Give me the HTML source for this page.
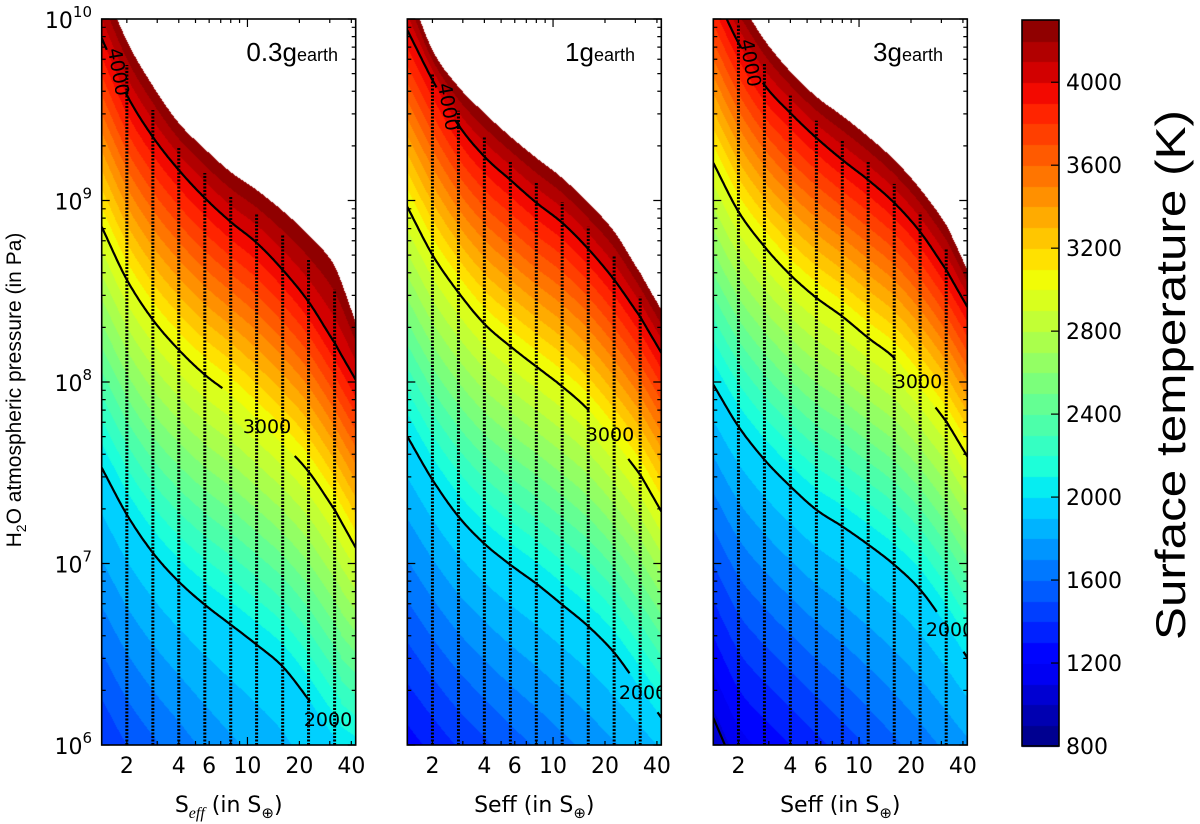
<!DOCTYPE html>
<html><head><meta charset="utf-8"><style>
body{margin:0;width:1200px;height:824px;background:#fff;position:relative;overflow:hidden}
#cv,#sv{position:absolute;left:0;top:0}
</style></head>
<body>
<canvas id="cv" width="1200" height="824"></canvas>
<svg id="sv" width="1200" height="824" xmlns="http://www.w3.org/2000/svg"></svg>
<script>
// ---- data ----
const S_COLS = [1.43, 2, 2.83, 4, 5.66, 8, 11.3, 16, 22.6, 32, 42.4];
const PANEL_LABELS = ["0.3g", "1g", "3g"];
const LEVELS = [2000, 3000, 4000];
// panel 1 (0.3 g_earth): log10 P at given temperature contours, per S column
const P1_BOTTOM_T = [1400, 1500, 1580, 1650, 1720, 1780, 1830, 1880, 1940, 2000, 2060];
const P1_LOGP_2000 = [7.528, 7.269, 7.059, 6.900, 6.773, 6.663, 6.553, 6.432, 6.250, 6.046, 5.920];
const P1_LOGP_3000 = [8.855, 8.563, 8.343, 8.177, 8.040, 7.930, 7.797, 7.660, 7.506, 7.296, 7.087];
const P1_LOGP_4000 = [9.895, 9.581, 9.350, 9.168, 9.014, 8.882, 8.767, 8.618, 8.442, 8.216, 8.012];
const P1_LOGP_EDGE = [10.21, 9.879, 9.631, 9.427, 9.284, 9.157, 9.058, 8.943, 8.811, 8.640, 8.330];
// panel 2 (1 g_earth)
const P2_BOTTOM_T = [1250, 1330, 1410, 1480, 1550, 1610, 1670, 1730, 1790, 1850, 1910];
const P2_LOGP_2000 = [7.700, 7.461, 7.259, 7.109, 6.993, 6.889, 6.773, 6.654, 6.509, 6.316, 6.151];
const P2_LOGP_3000 = [8.965, 8.700, 8.493, 8.320, 8.196, 8.085, 7.975, 7.847, 7.676, 7.489, 7.287];
const P2_LOGP_4000 = [9.939, 9.664, 9.416, 9.242, 9.113, 8.988, 8.877, 8.733, 8.563, 8.359, 8.161];
const P2_LOGP_EDGE = [10.187, 9.829, 9.627, 9.482, 9.352, 9.235, 9.124, 8.987, 8.829, 8.601, 8.398];
// panel 3 (3 g_earth)
const P3_BOTTOM_T = [1000, 1150, 1230, 1300, 1370, 1440, 1510, 1580, 1650, 1720, 1780];
const P3_LOGP_2000 = [7.985, 7.755, 7.572, 7.425, 7.296, 7.204, 7.104, 6.993, 6.856, 6.663, 6.481];
const P3_LOGP_3000 = [9.207, 8.939, 8.746, 8.590, 8.464, 8.361, 8.243, 8.133, 7.968, 7.783, 7.590];
const P3_LOGP_4000 = [10.160, 9.868, 9.637, 9.482, 9.345, 9.224, 9.113, 8.987, 8.827, 8.618, 8.414];
const P3_LOGP_EDGE = [10.27, 10.105, 9.884, 9.710, 9.572, 9.466, 9.352, 9.224, 9.064, 8.866, 8.618];
const P3_C1000_S = [1.43, 1.67];
const P3_C1000_LOGP = [6.15, 6.0];
// simulation tracks (dotted)
const TRACK_S = [2, 2.83, 4, 5.66, 8, 11.3, 16, 22.6, 32];
// ticks
const X_TICK_LABELS = [2, 4, 6, 10, 20, 40];
const X_MINOR = [2, 3, 4, 5, 6, 7, 8, 9, 20, 30, 40];
const X_MAJOR = [10];
const Y_TICK_EXP = [6, 7, 8, 9, 10];
const CBAR_TICKS = [800, 1200, 1600, 2000, 2400, 2800, 3200, 3600, 4000];
const T_MIN = 800, T_MAX = 4300, T_STEP = 100;

// ---- layout ----
const PANELS = [
  {x0: 101.7, tb: P1_BOTTOM_T, p2: P1_LOGP_2000, p3: P1_LOGP_3000, p4: P1_LOGP_4000, pe: P1_LOGP_EDGE,
   gaps: {2000: [23.1, 35.3], 3000: [7.22, 18.6], 4000: [1.55, 1.95]},
   lab: {4000: [118, 72, 80], 3000: [267, 427, 0], 2000: [328, 720, 0]}, glabEnd: 338},
  {x0: 407.3, tb: P2_BOTTOM_T, p2: P2_LOGP_2000, p3: P2_LOGP_3000, p4: P2_LOGP_4000, pe: P2_LOGP_EDGE,
   gaps: {2000: [27.9, 40.1], 3000: [16.2, 27.2], 4000: [2.12, 2.7]},
   lab: {4000: [448, 107, 80], 3000: [610, 435, 0], 2000: [643, 693, 0]}, glabEnd: 635},
  {x0: 713.3, tb: P3_BOTTOM_T, p2: P3_LOGP_2000, p3: P3_LOGP_3000, p4: P3_LOGP_4000, pe: P3_LOGP_EDGE,
   gaps: {2000: [28.3, 40.1], 3000: [16.2, 27.6], 4000: [2.10, 2.74]},
   lab: {4000: [750, 63, 80], 3000: [918, 382, 0], 2000: [950, 630, 0]}, glabEnd: 943}
];
const PW = 254, YT = 19, YB = 745;
const LS0 = Math.log10(S_COLS[0]), LS1 = Math.log10(S_COLS[S_COLS.length - 1]);
function xScale(x0, s) { return x0 + (Math.log10(s) - LS0) / (LS1 - LS0) * PW; }
function yScale(lp) { return YT + (10 - lp) / 4 * (YB - YT); }
function lpFromY(y) { return 10 - (y - YT) / (YB - YT) * 4; }
function lsFromX(x0, x) { return LS0 + (x - x0) / PW * (LS1 - LS0); }
const LCOLS = S_COLS.map(Math.log10);
function interpCol(arr, ls) {
  const n = arr.length;
  let i = 0; while (i < n - 2 && ls > LCOLS[i + 1]) i++;
  let t = (ls - LCOLS[i]) / (LCOLS[i + 1] - LCOLS[i]);
  t = Math.max(0, Math.min(1, t));
  const p1 = arr[i], p2 = arr[i + 1];
  const p0 = i > 0 ? arr[i - 1] : 2 * p1 - p2;
  const p3 = i + 2 < n ? arr[i + 2] : 2 * p2 - p1;
  const t2 = t * t, t3 = t2 * t;
  return 0.5 * (2 * p1 + (-p0 + p2) * t + (2 * p0 - 5 * p1 + 4 * p2 - p3) * t2 + (-p0 + 3 * p1 - 3 * p2 + p3) * t3);
}
function profile(P, ls) {
  const pts = [[6, interpCol(P.tb, ls)], [interpCol(P.p2, ls), 2000], [interpCol(P.p3, ls), 3000],
               [interpCol(P.p4, ls), 4000], [interpCol(P.pe, ls), 4300]];
  pts.sort((a, b) => a[0] - b[0]);
  return pts;
}
function tempAt(pts, lp) {
  if (lp > pts[pts.length - 1][0]) return null;
  let j = 0; while (j < pts.length - 2 && lp > pts[j + 1][0]) j++;
  const a = pts[j], b = pts[j + 1];
  const t = a[1] + (b[1] - a[1]) * (lp - a[0]) / (b[0] - a[0]);
  return Math.max(T_MIN, Math.min(T_MAX - 1, t));
}
function jet(v) {
  const r = v < 0.35 ? 0 : v < 0.66 ? (v - 0.35) / 0.31 : v < 0.89 ? 1 : 1 - 0.5 * (v - 0.89) / 0.11;
  const g = v < 0.125 ? 0 : v < 0.375 ? (v - 0.125) / 0.25 : v < 0.64 ? 1 : v < 0.91 ? 1 - (v - 0.64) / 0.27 : 0;
  const b = v < 0.11 ? 0.5 + 0.5 * v / 0.11 : v < 0.34 ? 1 : v < 0.65 ? 1 - (v - 0.34) / 0.31 : 0;
  return [Math.round(r * 255), Math.round(g * 255), Math.round(b * 255)];
}
function bandColor(t) {
  const k = Math.floor((t - T_MIN) / T_STEP);
  const n = (T_MAX - T_MIN) / T_STEP;
  return jet((k + 0.5) / n);
}

// ---- heatmaps ----
const cv = document.getElementById('cv');
const ctx = cv.getContext('2d');
ctx.fillStyle = '#fff'; ctx.fillRect(0, 0, 1200, 824);
PANELS.forEach(P => {
  const xs = Math.round(P.x0), w = PW, h = YB - YT;
  const img = ctx.createImageData(w, h);
  for (let i = 0; i < w; i++) {
    const pts = profile(P, lsFromX(P.x0, xs + i + 0.5));
    for (let j = 0; j < h; j++) {
      const t = tempAt(pts, lpFromY(YT + j + 0.5));
      const o = (j * w + i) * 4;
      if (t === null) { img.data[o] = 255; img.data[o + 1] = 255; img.data[o + 2] = 255; }
      else { const c = bandColor(t); img.data[o] = c[0]; img.data[o + 1] = c[1]; img.data[o + 2] = c[2]; }
      img.data[o + 3] = 255;
    }
  }
  ctx.putImageData(img, xs, YT);
});
// colorbar
const CBX = 1022, CBW = 37, CBT = 20, CBB = 746;
const nb = (T_MAX - T_MIN) / T_STEP;
for (let k = 0; k < nb; k++) {
  const c = jet((k + 0.5) / nb);
  ctx.fillStyle = `rgb(${c[0]},${c[1]},${c[2]})`;
  const y1 = CBB - (k + 1) * (CBB - CBT) / nb, y0 = CBB - k * (CBB - CBT) / nb;
  ctx.fillRect(CBX, Math.floor(y1), CBW, Math.ceil(y0 - y1) + 1);
}

// ---- svg overlay ----
const NS = 'http://www.w3.org/2000/svg';
const sv = document.getElementById('sv');
function mk(tag, attrs, parent) {
  const e = document.createElementNS(NS, tag);
  for (const k in attrs) e.setAttribute(k, attrs[k]);
  (parent || sv).appendChild(e); return e;
}
const FONT = '"DejaVu Sans", "Liberation Sans", sans-serif';
const FONT2 = '"Liberation Sans", Arial, sans-serif';
const defs = mk('defs', {});

PANELS.forEach((P, pi) => {
  const g = mk('g', {});
  
  
  const cp = mk('clipPath', {id: 'clip' + pi}, defs);
  mk('rect', {x: P.x0, y: YT, width: PW, height: YB - YT}, cp);
  const clipG = mk('g', {'clip-path': 'url(#clip' + pi + ')'}, g);

  // dotted tracks
  TRACK_S.forEach(s => {
    const ls = Math.log10(s);
    const x = xScale(P.x0, s);
    const yTop = yScale(interpCol(P.pe, ls)) + 24;
    const ln = mk('line', {x1: x, x2: x, y1: YB, y2: yTop, stroke: '#000', 'stroke-width': 3, 'stroke-dasharray': '2,1.5'}, clipG);
    
    
  });

  // contour lines
  const arrs = {2000: P.p2, 3000: P.p3, 4000: P.p4};
  LEVELS.forEach(lv => {
    const gap = P.gaps[lv];
    let d = '', pen = false;
    const N = 200;
    for (let k = 0; k <= N; k++) {
      const ls = LS0 + (LS1 - LS0) * k / N;
      const s = Math.pow(10, ls);
      if (s > gap[0] && s < gap[1]) { pen = false; continue; }
      const x = xScale(P.x0, s), y = yScale(interpCol(arrs[lv], ls));
      d += (pen ? 'L' : 'M') + x.toFixed(1) + ' ' + y.toFixed(1) + ' ';
      pen = true;
    }
    const pth = mk('path', {d: d, fill: 'none', stroke: '#000', 'stroke-width': 2.2}, clipG);
    
    
    const L = P.lab[lv];
    const tx = mk('text', {x: L[0], y: L[1], 'font-size': 19, 'font-family': FONT, 'text-anchor': 'middle',
      'dominant-baseline': 'central', transform: `rotate(${L[2]} ${L[0]} ${L[1]})`}, clipG);
    tx.textContent = String(lv);
    
    
  });
  if (pi === 2) {
    let d = '';
    P3_C1000_S.forEach((s, k) => { d += (k ? 'L' : 'M') + xScale(P.x0, s) + ' ' + yScale(P3_C1000_LOGP[k]) + ' '; });
    const c1 = mk('path', {d: d, fill: 'none', stroke: '#000', 'stroke-width': 2.2}, clipG);
    
    
  }

  // frame
  const fr = mk('rect', {x: P.x0, y: YT, width: PW, height: YB - YT, fill: 'none', stroke: '#000', 'stroke-width': 1.6}, g);
  
  

  // ticks
  let td = '';
  Y_TICK_EXP.forEach(e => {
    const y = yScale(e);
    td += `M${P.x0} ${y}h8 M${P.x0 + PW} ${y}h-8 `;
    if (e < 10) for (let m = 2; m <= 9; m++) {
      const ym = yScale(e + Math.log10(m));
      td += `M${P.x0} ${ym}h4 M${P.x0 + PW} ${ym}h-4 `;
    }
  });
  X_MINOR.forEach(s => { const x = xScale(P.x0, s); td += `M${x} ${YB}v-4 M${x} ${YT}v4 `; });
  X_MAJOR.forEach(s => { const x = xScale(P.x0, s); td += `M${x} ${YB}v-8 M${x} ${YT}v8 `; });
  const tk = mk('path', {d: td, stroke: '#000', 'stroke-width': 1.2, fill: 'none'}, g);
  
  

  // x tick labels
  X_TICK_LABELS.forEach(s => {
    const t = mk('text', {x: xScale(P.x0, s), y: 773, 'font-size': 22, 'font-family': FONT, 'text-anchor': 'middle'}, g);
    t.textContent = String(s);
    
    
  });
  // x title
  const xt = mk('text', {x: P.x0 + 127, y: 812, 'font-size': 22, 'font-family': FONT, 'text-anchor': 'middle'}, g);
  if (pi === 0) {
    xt.innerHTML = 'S<tspan dy="6" font-size="16" font-style="italic" font-family="Liberation Serif, serif">eff</tspan><tspan dy="-6"> (in S</tspan><tspan dy="6" font-size="15">⊕</tspan><tspan dy="-6">)</tspan>';
  } else {
    xt.innerHTML = 'Seff (in S<tspan dy="6" font-size="15">⊕</tspan><tspan dy="-6">)</tspan>';
  }
  
  

  // panel label
  const pl = mk('text', {x: P.glabEnd, y: 61, 'font-size': 26, 'font-family': FONT2, 'text-anchor': 'end'}, g);
  pl.innerHTML = PANEL_LABELS[pi] + '<tspan font-size="18">earth</tspan>';
  
  
});

// y tick labels
Y_TICK_EXP.forEach(e => {
  const t = mk('text', {x: 92, y: yScale(e) + 9, 'font-size': 22, 'font-family': FONT, 'text-anchor': 'end'});
  t.innerHTML = '10<tspan dy="-11" font-size="15">' + e + '</tspan>';
  
  
});
// y title
const yt = mk('text', {x: 0, y: 0, 'font-size': 21, 'font-family': FONT2, 'text-anchor': 'middle',
  transform: 'translate(21 390) rotate(-90)'});
yt.innerHTML = 'H<tspan dy="5" font-size="14">2</tspan><tspan dy="-5">O atmospheric pressure (in Pa)</tspan>';



// colorbar frame, ticks, labels
const cbf = mk('rect', {x: CBX, y: CBT, width: CBW, height: CBB - CBT, fill: 'none', stroke: '#000', 'stroke-width': 1.6});


CBAR_TICKS.forEach(v => {
  const y = CBB - (v - T_MIN) / (T_MAX - T_MIN) * (CBB - CBT);
  const l = mk('line', {x1: CBX + CBW - 8, x2: CBX + CBW, y1: y, y2: y, stroke: '#000', 'stroke-width': 1.2});
  
  
  const t = mk('text', {x: 1066, y: y + 8, 'font-size': 22, 'font-family': FONT});
  t.textContent = String(v);
  
  
});
const cbl = mk('text', {x: 0, y: 0, 'font-size': 42, 'font-family': FONT2, 'text-anchor': 'middle',
  textLength: 530, lengthAdjust: 'spacingAndGlyphs', transform: 'translate(1185 375) rotate(-90)'});
cbl.textContent = 'Surface temperature (K)';


</script>
</body></html>
